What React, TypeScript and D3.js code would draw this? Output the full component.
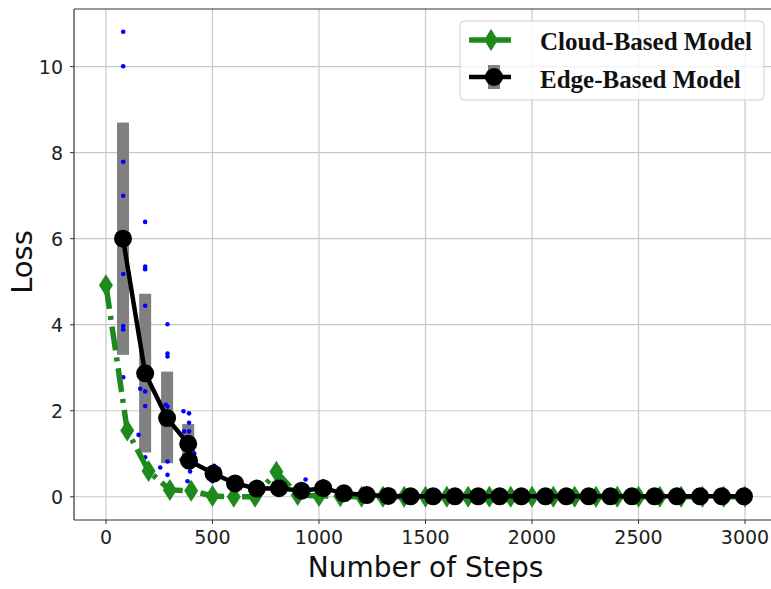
import React from 'react';
import * as d3 from 'd3';

// values
const cloudSteps = [0, 100, 200, 300, 400, 500, 600, 700, 800, 900, 1000, 1100, 1200, 1300, 1400, 1500,
  1600, 1700, 1800, 1900, 2000, 2100, 2200, 2300, 2400, 2500, 2600, 2700, 2800, 2900, 3000];
const cloudLoss = [4.92, 1.54, 0.6, 0.16, 0.14, 0.02, 0.0, 0.0, 0.58, 0.04, 0.02, 0.01, 0.0, 0.0, 0.0, 0.0,
  0.0, 0.0, 0.0, 0.0, 0.0, 0.0, 0.0, 0.0, 0.0, 0.0, 0.0, 0.0, 0.0, 0.0, 0.0];

const edgeSteps = [80, 184, 287, 386, 390, 505, 606, 708, 812, 918, 1020, 1117, 1224, 1325, 1430, 1536,
  1638, 1747, 1848, 1950, 2063, 2161, 2266, 2368, 2469, 2575, 2680, 2789, 2891, 2995];
const edgeLoss = [6.0, 2.87, 1.83, 1.23, 0.84, 0.54, 0.31, 0.19, 0.2, 0.14, 0.2, 0.08, 0.04, 0.02, 0.01, 0.01,
  0.01, 0.01, 0.01, 0.01, 0.01, 0.01, 0.01, 0.01, 0.01, 0.01, 0.01, 0.01, 0.01, 0.01];

const errSteps = [80, 184, 287, 386];
const errLow = [3.3, 1.03, 0.78, 0.75];
const errHigh = [8.7, 4.72, 2.91, 1.69];

const dotSteps = [81, 81, 81, 81, 81, 81, 81, 81,
  184, 184, 184, 184, 161, 184, 184, 153, 184,
  289, 289, 289, 281, 289, 289, 255, 289,
  364, 390, 390, 367, 390, 414, 355, 395, 383,
  508, 500, 937, 1020];
const dotLoss = [10.81, 10.01, 7.79, 7.0, 5.18, 3.97, 3.89, 2.78,
  6.39, 5.35, 5.29, 4.44, 2.51, 2.45, 2.11, 1.44, 0.92,
  4.01, 3.33, 3.26, 2.14, 2.1, 0.82, 0.68, 0.51,
  1.99, 1.94, 1.72, 1.52, 1.52, 1.01, 0.86, 0.59, 0.36,
  0.72, 0.36, 0.4, 0.36];

const xTicks = [0, 500, 1000, 1500, 2000, 2500, 3000];
const yTicks = [0, 2, 4, 6, 8, 10];
const seriesNames = ['Cloud-Based Model', 'Edge-Based Model'];

const W = 771;
const H = 589;
const green = '#1e8a1e';
const sans = 'DejaVu Sans, sans-serif';
const serif = 'Liberation Serif, Times New Roman, serif';

const diamond = (cx: number, cy: number) =>
  `M${cx},${cy - 11}L${cx + 7},${cy}L${cx},${cy + 11}L${cx - 7},${cy}Z`;

export default function App() {
  const left = 74, right = 777, top = 9, bottom = 520;
  const x = d3.scaleLinear().domain([-150, 3150]).range([left, right]);
  const y = d3.scaleLinear().domain([-0.54, 11.34]).range([bottom, top]);

  const cloud = cloudSteps.map((s, i) => [s, cloudLoss[i]] as [number, number]);
  const edge = edgeSteps.map((s, i) => [s, edgeLoss[i]] as [number, number]);
  const line = d3.line<[number, number]>().x(d => x(d[0])).y(d => y(d[1]));

  return (
    <svg width={W} height={H} style={{ position: 'absolute', left: 0, top: 0, background: '#fff' }}>
      <defs>
        <clipPath id="plot">
          <rect x={left} y={top} width={right - left} height={bottom - top} />
        </clipPath>
      </defs>
      <rect width={W} height={H} fill="#fff" />

      {/* grid */}
      <g stroke="#c8c8c8" strokeWidth={1.2}>
        {xTicks.map(t => <line key={'gx' + t} x1={x(t)} x2={x(t)} y1={top} y2={bottom} />)}
        {yTicks.map(t => <line key={'gy' + t} x1={left} x2={right} y1={y(t)} y2={y(t)} />)}
      </g>

      <g clipPath="url(#plot)">
        {/* error bars */}
        {errSteps.map((s, i) => (
          <rect key={'e' + i} x={x(s) - 6} width={12} y={y(errHigh[i])}
            height={y(errLow[i]) - y(errHigh[i])} fill="#808080" />
        ))}
        {/* scattered samples */}
        {dotSteps.map((s, i) => (
          <circle key={'d' + i} cx={x(s)} cy={y(dotLoss[i])} r={2.3} fill="#0000ff" />
        ))}
        {/* cloud */}
        <path d={line(cloud) || ''} fill="none" stroke={green} strokeWidth={5.5}
          strokeDasharray="24,7,4,7" />
        {cloud.map((d, i) => <path key={'c' + i} d={diamond(x(d[0]), y(d[1]))} fill={green} />)}
        {/* edge */}
        <path d={line(edge) || ''} fill="none" stroke="#000" strokeWidth={4.5} />
        {edge.map((d, i) => <circle key={'k' + i} cx={x(d[0])} cy={y(d[1])} r={9} fill="#000" />)}
      </g>

      {/* spines (right one falls outside the picture) */}
      <g stroke="#333" strokeWidth={1.2} fill="none">
        <line x1={left} x2={left} y1={top} y2={bottom} />
        <line x1={left} x2={right} y1={bottom} y2={bottom} />
        <line x1={left} x2={right} y1={top} y2={top} />
      </g>

      {/* ticks */}
      <g fontFamily={sans} fontSize={19} fill="#222">
        {xTicks.map(t => (
          <g key={'tx' + t}>
            <line x1={x(t)} x2={x(t)} y1={bottom} y2={bottom + 4} stroke="#333" />
            <text x={x(t)} y={544} textAnchor="middle">{t}</text>
          </g>
        ))}
        {yTicks.map(t => (
          <g key={'ty' + t}>
            <line x1={left - 4} x2={left} y1={y(t)} y2={y(t)} stroke="#333" />
            <text x={63} y={y(t) + 7} textAnchor="end">{t}</text>
          </g>
        ))}
      </g>

      {/* axis titles */}
      <text x={(left + right) / 2} y={577} textAnchor="middle" fontFamily={sans} fontSize={28} fill="#111">
        Number of Steps
      </text>
      <text transform={`translate(32,${262}) rotate(-90)`} textAnchor="middle" fontFamily={sans}
        fontSize={29} fill="#111">Loss</text>

      {/* legend */}
      <g>
        <rect x={460} y={21} width={304} height={79} rx={4} fill="#fff" fillOpacity={0.8}
          stroke="#d0d0d0" strokeWidth={1} />
        <line x1={469} x2={511} y1={40} y2={40} stroke={green} strokeWidth={5.5} />
        <path d={diamond(491, 40)} fill={green} />
        <line x1={469} x2={511} y1={77} y2={77} stroke="#000" strokeWidth={4.5} />
        <rect x={488} y={65} width={12} height={24} fill="#808080" />
        <circle cx={494} cy={77} r={9} fill="#000" />
        <text x={540} y={50} fontFamily={serif} fontWeight="bold" fontSize={25} fill="#111">
          {seriesNames[0]}
        </text>
        <text x={540} y={88} fontFamily={serif} fontWeight="bold" fontSize={25} fill="#111">
          {seriesNames[1]}
        </text>
      </g>
    </svg>
  );
}
